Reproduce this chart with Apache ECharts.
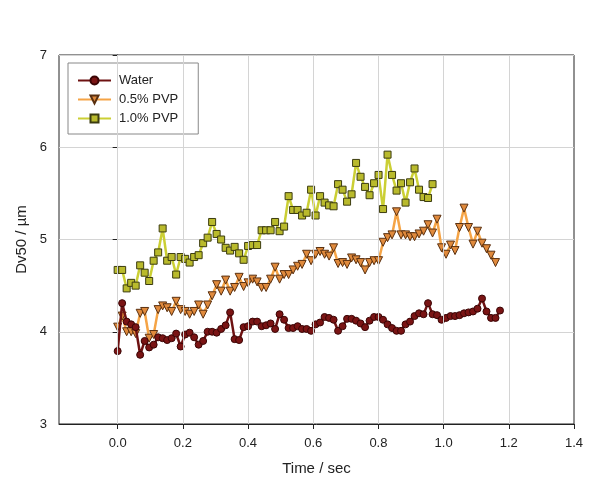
<!DOCTYPE html>
<html>
<head>
<meta charset="utf-8">
<script src="https://cdn.jsdelivr.net/npm/echarts@6/dist/echarts.min.js"></script>
<style>
  html, body { margin: 0; padding: 0; background: #fff; }
  #chart { width: 600px; height: 489px; }
</style>
</head>
<body>
<div id="chart"></div>
<script>
// frame interval of the measurement, seconds
const dt = 0.0138;

const xTicks = [0, 0.2, 0.4, 0.6, 0.8, 1.0, 1.2, 1.4];
const yTicks = [3, 4, 5, 6, 7];

const water = [
  3.79, 4.31, 4.11, 4.08, 4.05, 3.75, 3.90, 3.83, 3.86, 3.94,
  3.93, 3.91, 3.93, 3.98, 3.84, 3.97, 3.99, 3.94, 3.86, 3.90,
  4.00, 4.00, 3.99, 4.03, 4.07, 4.21, 3.92, 3.91, 4.05, 4.06,
  4.11, 4.11, 4.06, 4.07, 4.09, 4.03, 4.19, 4.13, 4.04, 4.04,
  4.06, 4.03, 4.03, 4.01, 4.08, 4.10, 4.16, 4.15, 4.13, 4.01,
  4.06, 4.14, 4.14, 4.12, 4.09, 4.05, 4.12, 4.16, 4.16, 4.13,
  4.08, 4.04, 4.01, 4.01, 4.08, 4.11, 4.17, 4.20, 4.19, 4.31,
  4.19, 4.18, 4.13, 4.15, 4.17, 4.17, 4.18, 4.20, 4.21, 4.22,
  4.25, 4.36, 4.22, 4.15, 4.15, 4.23
];

const pvp05 = [
  4.05, 4.17, 4.00, 4.00, 3.98, 4.20, 4.22, 3.93, 3.97, 4.24,
  4.28, 4.26, 4.22, 4.33, 4.24, 4.22, 4.19, 4.22, 4.29, 4.19,
  4.29, 4.39, 4.51, 4.44, 4.56, 4.44, 4.48, 4.59, 4.49, 4.53,
  4.57, 4.54, 4.48, 4.48, 4.57, 4.70, 4.57, 4.62, 4.62, 4.67,
  4.71, 4.73, 4.84, 4.77, 4.84, 4.87, 4.84, 4.82, 4.91, 4.74,
  4.75, 4.73, 4.80, 4.78, 4.75, 4.67, 4.75, 4.77, 4.77, 4.97,
  5.02, 5.05, 5.30, 5.05, 5.05, 5.03, 5.03, 5.06, 5.09, 5.16,
  5.07, 5.22, 4.91, 4.84, 4.94, 4.88, 5.13, 5.34, 5.13, 4.95,
  5.09, 4.96, 4.90, 4.83, 4.75
];

const pvp10 = [
  4.67, 4.67, 4.47, 4.53, 4.50, 4.72, 4.64, 4.55, 4.77, 4.86,
  5.12, 4.77, 4.81, 4.62, 4.81, 4.79, 4.75, 4.81, 4.83, 4.96,
  5.02, 5.19, 5.06, 5.00, 4.91, 4.88, 4.92, 4.85, 4.78, 4.93,
  4.94, 4.94, 5.10, 5.10, 5.10, 5.19, 5.09, 5.14, 5.47, 5.32,
  5.32, 5.26, 5.29, 5.54, 5.26, 5.47, 5.40, 5.37, 5.36, 5.60,
  5.54, 5.41, 5.49, 5.83, 5.68, 5.57, 5.48, 5.61, 5.70, 5.33,
  5.92, 5.70, 5.53, 5.61, 5.40, 5.62, 5.77, 5.54, 5.46, 5.45,
  5.60
];

function withTime(values) {
  return values.map((v, i) => [+(i * dt).toFixed(4), v]);
}

var chart = echarts.init(document.getElementById('chart'));

var labelFont = { fontFamily: 'Liberation Sans, Arial, sans-serif', color: '#222' };

var option = {
  animation: false,
  backgroundColor: '#fff',
  grid: {
    left: 59, right: 26, top: 55, bottom: 65,
    show: true, borderColor: '#222', borderWidth: 1
  },
  legend: {
    orient: 'vertical',
    left: 68, top: 63,
    padding: [11, 20, 9, 9],
    itemGap: 6,
    itemWidth: 33, itemHeight: 10,
    borderColor: '#888', borderWidth: 1,
    backgroundColor: '#fff',
    textStyle: Object.assign({ fontSize: 13, padding: [0, 0, 0, 3] }, labelFont),
    data: ['Water', '0.5% PVP', '1.0% PVP']
  },
  xAxis: {
    type: 'value',
    min: -0.18, max: 1.4,
    name: 'Time / sec',
    nameLocation: 'middle',
    nameGap: 37,
    nameTextStyle: Object.assign({ fontSize: 15 }, labelFont),
    axisLine: { show: true, lineStyle: { color: '#222' } },
    axisTick: { show: true, length: 5, customValues: xTicks, lineStyle: { color: '#222' } },
    axisLabel: Object.assign({
      fontSize: 13, margin: 13, customValues: xTicks,
      formatter: v => v.toFixed(1)
    }, labelFont),
    splitLine: { show: false }
  },
  yAxis: {
    type: 'value',
    min: 3, max: 7, interval: 1,
    name: 'Dv50 / µm',
    nameLocation: 'middle',
    nameGap: 30,
    nameTextStyle: Object.assign({ fontSize: 15 }, labelFont),
    axisLine: { show: true, lineStyle: { color: '#222' } },
    axisTick: { show: true, length: 5, lineStyle: { color: '#222' } },
    axisLabel: Object.assign({ fontSize: 13, margin: 12 }, labelFont),
    splitLine: { show: true, lineStyle: { color: '#d4d4d4', width: 1 } }
  },
  series: [
    {
      name: 'grid',
      type: 'line',
      data: [],
      silent: true,
      markLine: {
        silent: true,
        symbol: 'none',
        label: { show: false },
        lineStyle: { color: '#d4d4d4', width: 1, type: 'solid' },
        data: xTicks.slice(0, -1).map(v => ({ xAxis: v }))
      }
    },
    {
      name: 'Water',
      type: 'line',
      data: withTime(water),
      symbol: 'circle',
      symbolSize: 7,
      lineStyle: { color: '#6e1212', width: 2.5 },
      itemStyle: { color: '#7a1414', borderColor: '#3a0505', borderWidth: 1 },
      z: 4
    },
    {
      name: '0.5% PVP',
      type: 'line',
      data: withTime(pvp05),
      symbol: 'triangle',
      symbolRotate: 180,
      symbolSize: 8,
      lineStyle: { color: '#f5a446', width: 2.5 },
      itemStyle: { color: '#e08a3c', borderColor: '#5a3010', borderWidth: 1 },
      z: 3
    },
    {
      name: '1.0% PVP',
      type: 'line',
      data: withTime(pvp10),
      symbol: 'rect',
      symbolSize: 7,
      lineStyle: { color: '#cbcf34', width: 2.5 },
      itemStyle: { color: '#b9ba2c', borderColor: '#3c3c10', borderWidth: 1 },
      z: 2
    }
  ]
};

chart.setOption(option);
</script>
</body>
</html>
